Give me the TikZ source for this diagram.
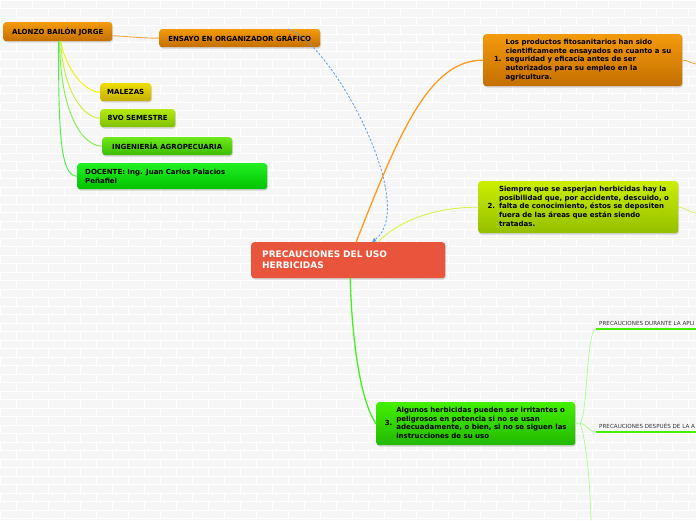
\documentclass[tikz,border=0pt]{standalone}
\usepackage{fontspec}
\setmainfont{DejaVu Sans}
\usetikzlibrary{shadows,arrows.meta}
\definecolor{bgbrick}{HTML}{F6F6F6}
\definecolor{orangeT}{HTML}{F39A0C}
\definecolor{orangeB}{HTML}{C46F00}
\definecolor{yellowT}{HTML}{EEDD00}
\definecolor{yellowB}{HTML}{C4AE00}
\definecolor{ygT}{HTML}{B4EA10}
\definecolor{ygB}{HTML}{80C000}
\definecolor{gT}{HTML}{6EE81A}
\definecolor{gB}{HTML}{3DBB00}
\definecolor{dT}{HTML}{22F022}
\definecolor{dB}{HTML}{00C200}
\definecolor{ntwoT}{HTML}{CCEE00}
\definecolor{ntwoB}{HTML}{94BF00}
\definecolor{nthreeT}{HTML}{44F000}
\definecolor{nthreeB}{HTML}{22B800}
\definecolor{cred}{HTML}{E9553C}
\definecolor{lorange}{HTML}{FF9A1E}
\definecolor{lalonzo}{HTML}{F5A742}
\definecolor{lyel}{HTML}{F2F200}
\definecolor{lyg}{HTML}{C8F030}
\definecolor{lgreen}{HTML}{7CF040}
\definecolor{lbright}{HTML}{44F044}
\definecolor{lmaintwo}{HTML}{D8F24A}
\definecolor{lmainthree}{HTML}{44F020}
\definecolor{lsub}{HTML}{A8FF8C}
\definecolor{lunder}{HTML}{44F000}
\definecolor{lblue}{HTML}{5A9AE6}
\definecolor{subtext}{HTML}{333333}
\tikzset{
  mm/.style={rounded corners=3pt, drop shadow={opacity=0.3,shadow xshift=0.8pt,shadow yshift=-1.3pt},
    anchor=north west, inner sep=0pt, font=\fontsize{7}{8.6}\selectfont\bfseries, text=black},
  gr/.style 2 args={top color=#1, bottom color=#2},
  conn/.style={line width=#1, line cap=round},
  conn/.default=0.9pt,
  subtopic/.style={anchor=south west, inner sep=1pt, font=\fontsize{5.6}{6.5}\selectfont, text=subtext},
  underl/.style={draw=lunder, line width=2.2pt},
  dasharrow/.style={draw=lblue, line width=0.8pt, dash pattern=on 2.2pt off 1.8pt, -{Triangle[length=4pt,width=4pt]}}
}
\begin{document}
\begin{tikzpicture}[x=1pt,y=-1pt]
\useasboundingbox (0,0) rectangle (696,520);
% brick background
\fill[bgbrick] (0,0) rectangle (696,520);
\foreach \r in {0,...,61}{
  \draw[white, line width=0.7pt] (0,\r*8.5) -- (696,\r*8.5);
  \pgfmathsetmacro\off{mod(\r,2)*16}
  \foreach \c in {0,...,22}{
    \draw[white, line width=0.7pt] (\off+\c*32,\r*8.5) -- (\off+\c*32,\r*8.5+8.5);
  }
}

% nodes (top-left group)
\node[mm, gr={orangeT}{orangeB}, minimum width=109pt, minimum height=19pt] (alonzo) at (3,22) {ALONZO BAILÓN JORGE};
\node[mm, gr={orangeT}{orangeB}, minimum width=161pt, minimum height=18pt] (ensayo) at (159,29) {ENSAYO EN ORGANIZADOR GRÁFICO};
\node[mm, gr={yellowT}{yellowB}, minimum width=51pt, minimum height=18pt] (malezas) at (100,83) {MALEZAS};
\node[mm, gr={ygT}{ygB}, minimum width=75pt, minimum height=18pt] (semestre) at (100,109) {8VO SEMESTRE};
\node[mm, gr={gT}{gB}, minimum width=130pt, minimum height=18pt] (ing) at (102,137) {INGENIERÍA AGROPECUARIA};
\node[mm, gr={dT}{dB}, minimum width=190pt, minimum height=26pt, text width=174pt, inner xsep=8pt, align=left] (docente) at (77,163) {DOCENTE: Ing. Juan Carlos Palacios\\Peñafiel};

% central
\node[mm, fill=cred, minimum width=194pt, minimum height=36pt, text width=172pt, inner xsep=11pt, align=left, text=white, font=\fontsize{9}{11}\selectfont\bfseries] (central) at (251,242) {PRECAUCIONES DEL USO\\HERBICIDAS};

% main topics
\node[mm, gr={orangeT}{orangeB}, minimum width=199pt, minimum height=52pt, align=left] (n1) at (483,34) {\begin{tabular}{@{}l@{\hspace{4pt}}l@{}}1.&\begin{tabular}[c]{@{}l@{}}Los productos fitosanitarios han sido\\cientificamente ensayados en cuanto a su\\seguridad y eficacia antes de ser\\autorizados para su empleo en la\\agricultura.\end{tabular}\end{tabular}};
\node[mm, gr={ntwoT}{ntwoB}, minimum width=200pt, minimum height=52pt, align=left] (n2) at (478,181) {\begin{tabular}{@{}l@{\hspace{4pt}}l@{}}2.&\begin{tabular}[c]{@{}l@{}}Siempre que se asperjan herbicidas hay la\\posibilidad que, por accidente, descuido, o\\falta de conocimiento, éstos se depositen\\fuera de las áreas que están siendo\\tratadas.\end{tabular}\end{tabular}};
\node[mm, gr={nthreeT}{nthreeB}, minimum width=199pt, minimum height=43pt, align=left] (n3) at (376,402) {\begin{tabular}{@{}l@{\hspace{4pt}}l@{}}3.&\begin{tabular}[c]{@{}l@{}}Algunos herbicidas pueden ser irritantes o\\peligrosos en potencia si no se usan\\adecuadamente, o bien, si no se siguen las\\instrucciones de su uso\end{tabular}\end{tabular}};

% subtopics
\coordinate (d1s) at (596,329);
\coordinate (d1e) at (696,329);
\coordinate (d2s) at (596,432);
\coordinate (d2e) at (696,432);
\coordinate (br) at (580,423);
\coordinate (bot) at (591,520);
\coordinate (r1) at (696,64);
\coordinate (r2) at (696,213);
\node[subtopic] (sub1) at (598,327) {PRECAUCIONES DURANTE LA APLI};
\node[subtopic] (sub2) at (598,430) {PRECAUCIONES DESPUÉS DE LA A};

% connectors
\draw[dasharrow] ([xshift=48pt]ensayo.north) .. controls (330,40) and (420,205) .. ([xshift=24pt]central.north);
\draw[conn, draw=lalonzo] ([yshift=-4pt]alonzo.east) .. controls (135,37) and (140,38) .. (ensayo.west);
\draw[conn, draw=lyel] ([xshift=3pt]alonzo.south) .. controls (66,70) and (85,92) .. (malezas.west);
\draw[conn, draw=lyg] ([xshift=3pt]alonzo.south) .. controls (63,92) and (84,118) .. (semestre.west);
\draw[conn, draw=lgreen] ([xshift=2pt]alonzo.south) .. controls (60,112) and (82,146) .. (ing.west);
\draw[conn, draw=lbright] ([xshift=1pt]alonzo.south) .. controls (58,142) and (62,176) .. (docente.west);
\draw[conn=1.3pt, draw=lorange] ([xshift=8pt]central.north) .. controls (400,130) and (430,60) .. (n1.west);
\draw[conn, draw=lmaintwo] ([xshift=30pt]central.north) .. controls (395,224) and (430,207) .. (n2.west);
\draw[conn=1.3pt, draw=lmainthree] ([xshift=2pt]central.south) .. controls (352,340) and (360,400) .. (n3.west);
\draw[conn=0.7pt, draw=lorange] (n1.east) .. controls (688,60) and (690,63) .. (r1);
\draw[conn=0.7pt, draw=lmaintwo] (n2.east) .. controls (684,207) and (688,212) .. (r2);
\draw[conn=0.7pt, draw=lsub] (n3.east) -- (br);
\draw[conn=0.7pt, draw=lsub] (br) .. controls (588,414) and (586,331) .. (d1s);
\draw[conn=0.7pt, draw=lsub] (br) .. controls (588,425) and (589,432) .. (d2s);
\draw[conn=0.7pt, draw=lsub] (br) .. controls (586,440) and (590,480) .. (bot);
\draw[underl] (d1s) -- (d1e);
\draw[underl] (d2s) -- (d2e);
\end{tikzpicture}
\end{document}
